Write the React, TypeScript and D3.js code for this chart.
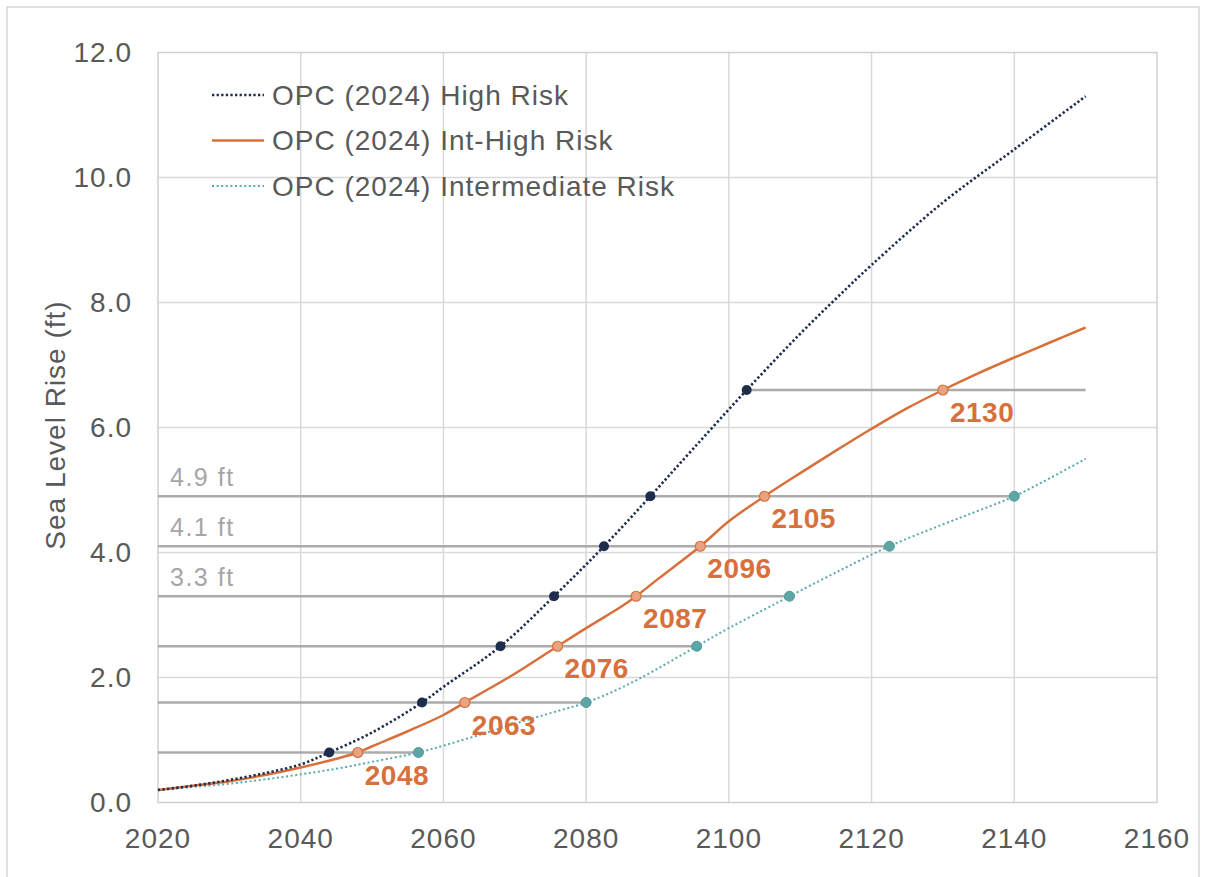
import React from "react";
import * as d3 from "d3";

// ---- Data ----
const highYears = [2020, 2025, 2030, 2035, 2040, 2044, 2050, 2057, 2060, 2068, 2075.5, 2082.5, 2089, 2095, 2102.5, 2110, 2115, 2120, 2130, 2140, 2150];
const highValues = [0.2, 0.27, 0.36, 0.47, 0.61, 0.8, 1.12, 1.6, 1.85, 2.5, 3.3, 4.1, 4.9, 5.66, 6.6, 7.5, 8.06, 8.6, 9.6, 10.45, 11.3];

const intHighYears = [2020, 2025, 2030, 2035, 2040, 2045, 2048, 2050, 2055, 2060, 2063, 2065, 2070, 2076, 2080, 2085, 2087, 2090, 2096, 2100, 2105, 2110, 2115, 2120, 2125, 2130, 2135, 2140, 2145, 2150];
const intHighValues = [0.2, 0.27, 0.34, 0.44, 0.56, 0.7, 0.8, 0.9, 1.14, 1.4, 1.6, 1.73, 2.06, 2.5, 2.79, 3.14, 3.3, 3.57, 4.1, 4.5, 4.9, 5.27, 5.63, 5.98, 6.31, 6.6, 6.87, 7.12, 7.36, 7.6];

const interYears = [2020, 2025, 2030, 2035, 2040, 2045, 2050, 2056.5, 2060, 2065, 2070, 2075, 2080, 2085, 2090, 2095.5, 2100, 2105, 2108.5, 2115, 2122.5, 2130, 2135, 2140, 2145, 2150];
const interValues = [0.2, 0.25, 0.3, 0.37, 0.45, 0.54, 0.65, 0.8, 0.91, 1.08, 1.26, 1.43, 1.6, 1.84, 2.14, 2.5, 2.79, 3.09, 3.3, 3.68, 4.1, 4.45, 4.67, 4.9, 5.19, 5.5];

// threshold levels and crossing years
const thresholds = [0.8, 1.6, 2.5, 3.3, 4.1, 4.9, 6.6];
const highCross = [2044, 2057, 2068, 2075.5, 2082.5, 2089, 2102.5];
const intHighCross = [2048, 2063, 2076, 2087, 2096, 2105, 2130];
const interCross = [2056.5, 2080, 2095.5, 2108.5, 2122.5, 2140, 2150];
const intHighLabels = ["2048", "2063", "2076", "2087", "2096", "2105", "2130"];
const levelLabels = ["3.3 ft", "4.1 ft", "4.9 ft"];
const levelLabelValues = [3.3, 4.1, 4.9];

const xTicks = [2020, 2040, 2060, 2080, 2100, 2120, 2140, 2160];
const yTicks = [0, 2, 4, 6, 8, 10, 12];
const seriesNames = ["OPC (2024) High Risk", "OPC (2024) Int-High Risk", "OPC (2024) Intermediate Risk"];

// ---- Styles ----
const NAVY = "#1f2d4d";
const ORANGE = "#d8703c";
const TEAL = "#5aa8ae";
const FONT = "Liberation Sans, Arial, sans-serif";

export default function App() {
  const W = 1206, H = 877;
  const x = d3.scaleLinear().domain([2020, 2160]).range([158, 1157]);
  const y = d3.scaleLinear().domain([0, 12]).range([802.5, 52.5]);

  const line = d3
    .line<[number, number]>()
    .x((d) => x(d[0]))
    .y((d) => y(d[1]))
    .curve(d3.curveCatmullRom.alpha(0.5));

  const hi = line(highYears.map((v, i) => [v, highValues[i]]) as [number, number][]) || "";
  const ih = line(intHighYears.map((v, i) => [v, intHighValues[i]]) as [number, number][]) || "";
  const it = line(interYears.map((v, i) => [v, interValues[i]]) as [number, number][]) || "";

  return (
    <svg width={W} height={H} style={{ position: "absolute", left: 0, top: 0, background: "#fff" }} fontFamily={FONT}>
      <rect x={0} y={0} width={W} height={H} fill="#fff" />
      <rect x={7} y={7} width={1192} height={880} fill="none" stroke="#d6d6d6" strokeWidth={1.5} />

      {/* gridlines */}
      {xTicks.slice(1, -1).map((t) => (
        <line key={"gx" + t} x1={x(t)} x2={x(t)} y1={y(12)} y2={y(0)} stroke="#d9d9d9" strokeWidth={1.5} />
      ))}
      {yTicks.slice(1, -1).map((t) => (
        <line key={"gy" + t} x1={x(2020)} x2={x(2160)} y1={y(t)} y2={y(t)} stroke="#d9d9d9" strokeWidth={1.5} />
      ))}
      <rect x={x(2020)} y={y(12)} width={x(2160) - x(2020)} height={y(0) - y(12)} fill="none" stroke="#d0d0d0" strokeWidth={1.5} />

      {/* threshold lines */}
      {thresholds.map((v, i) => {
        const x1 = i === thresholds.length - 1 ? x(highCross[i]) : x(2020);
        return (
          <line key={"th" + i} x1={x1} x2={x(interCross[i])} y1={y(v)} y2={y(v)} stroke="#ababab" strokeWidth={2.5} />
        );
      })}

      {/* level labels */}
      {levelLabels.map((l, i) => (
        <text key={"ll" + i} x={170} y={y(levelLabelValues[i]) - 10} fontSize={25} letterSpacing={1.5} fill="#a6a6a6">
          {l}
        </text>
      ))}

      {/* series */}
      <path d={it} fill="none" stroke={TEAL} strokeWidth={2} strokeDasharray="2 2.6" />
      <path d={ih} fill="none" stroke={ORANGE} strokeWidth={2.5} />
      <path d={hi} fill="none" stroke={NAVY} strokeWidth={2.6} strokeDasharray="2.3 2.3" />

      {/* markers */}
      {interCross.slice(0, 6).map((t, i) => (
        <circle key={"mi" + i} cx={x(t)} cy={y(thresholds[i])} r={5} fill="#5ea6a6" stroke="#4e9a9e" strokeWidth={1} />
      ))}
      {intHighCross.map((t, i) => (
        <circle key={"mo" + i} cx={x(t)} cy={y(thresholds[i])} r={5} fill="#e8a482" stroke={ORANGE} strokeWidth={1.2} />
      ))}
      {highCross.map((t, i) => (
        <circle key={"mh" + i} cx={x(t)} cy={y(thresholds[i])} r={5} fill={NAVY} />
      ))}

      {/* int-high year labels */}
      {intHighLabels.map((l, i) => (
        <text key={"yl" + i} x={x(intHighCross[i]) + 7} y={y(thresholds[i]) + 32} fontSize={28} letterSpacing={0.5} fontWeight="bold" fill={ORANGE}>
          {l}
        </text>
      ))}

      {/* axes labels */}
      {yTicks.map((t) => (
        <text key={"yt" + t} x={132} y={y(t)} fontSize={28} letterSpacing={1} fill="#595959" textAnchor="end" dominantBaseline="central">
          {t.toFixed(1)}
        </text>
      ))}
      {xTicks.map((t) => (
        <text key={"xt" + t} x={x(t)} y={848} fontSize={28} letterSpacing={1} fill="#595959" textAnchor="middle">
          {t}
        </text>
      ))}
      <text transform="translate(55,425) rotate(-90)" fontSize={28} letterSpacing={1} fill="#595959" textAnchor="middle" dominantBaseline="central">
        Sea Level Rise (ft)
      </text>

      {/* legend */}
      {seriesNames.map((n, i) => {
        const ly = 95 + i * 45.5;
        const stroke = i === 0 ? NAVY : i === 1 ? ORANGE : TEAL;
        const dash = i === 0 ? "2.3 2.3" : i === 2 ? "2 2.6" : undefined;
        return (
          <g key={"lg" + i}>
            <line x1={212} x2={264} y1={ly} y2={ly} stroke={stroke} strokeWidth={i === 2 ? 2 : 2.5} strokeDasharray={dash} />
            <text x={272} y={ly} fontSize={28} letterSpacing={1} fill="#595959" dominantBaseline="central">
              {n}
            </text>
          </g>
        );
      })}
    </svg>
  );
}
